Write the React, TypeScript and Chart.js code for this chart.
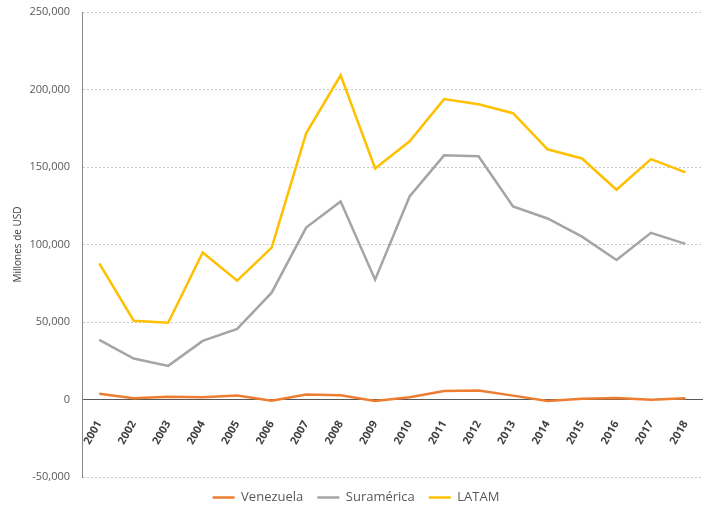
import React, { useEffect, useRef } from "react";
import { Chart, registerables } from "chart.js";

Chart.register(...registerables);

const years = ["2001","2002","2003","2004","2005","2006","2007","2008","2009","2010","2011","2012","2013","2014","2015","2016","2017","2018"];
const venezuela = [3700, 800, 1800, 1500, 2500, -800, 3200, 2700, -1000, 1500, 5500, 5800, 2500, -1000, 500, 1000, -200, 800];
const suramerica = [38500, 26400, 21700, 37800, 45600, 68900, 110900, 127700, 77300, 131000, 157500, 156900, 124500, 116800, 105100, 90000, 107500, 100400];
const latam = [87800, 50800, 49500, 94800, 76700, 98000, 171700, 209200, 149000, 166600, 193800, 190500, 184700, 161400, 155500, 135300, 155100, 146500];

const FONT = "'Open Sans', 'DejaVu Sans', sans-serif";

export default function App() {
  const ref = useRef<HTMLCanvasElement | null>(null);
  useEffect(() => {
    if (!ref.current) return;
    const chart = new Chart(ref.current, {
      type: "line",
      data: {
        labels: years,
        datasets: [
          { label: "Venezuela", data: venezuela, borderColor: "#ED7D31", backgroundColor: "#ED7D31", borderWidth: 2.5, pointRadius: 0, tension: 0 },
          { label: "Suramérica", data: suramerica, borderColor: "#A5A5A5", backgroundColor: "#A5A5A5", borderWidth: 2.5, pointRadius: 0, tension: 0 },
          { label: "LATAM", data: latam, borderColor: "#FFC000", backgroundColor: "#FFC000", borderWidth: 2.5, pointRadius: 0, tension: 0 },
        ],
      },
      options: {
        animation: false,
        responsive: true,
        maintainAspectRatio: false,
        layout: { padding: { top: 12, right: 4, left: 8, bottom: -3 } },
        plugins: {
          legend: {
            position: "bottom",
            labels: {
              usePointStyle: true,
              pointStyle: "line",
              pointStyleWidth: 22,
              color: "#595959",
              font: { family: FONT, size: 13 },
              padding: 14,
            },
          },
          tooltip: { enabled: false },
        },
        scales: {
          x: {
            position: { y: 0 },
            offset: true,
            grid: { display: false },
            border: { display: true, color: "#595959", width: 1 },
            ticks: {
              minRotation: 60,
              maxRotation: 60,
              color: "#404040",
              padding: 11,
              font: { family: FONT, size: 11, weight: "bold" },
            },
          },
          y: {
            min: -50000,
            max: 250000,
            afterFit: (s: any) => { s.width = 74; s.paddingTop = 0; s.paddingBottom = 0; },
            grid: { color: "#c8c8c8", drawTicks: false },
            border: { display: true, color: "#888888", dash: [2, 2] },
            ticks: {
              stepSize: 50000,
              color: "#595959",
              padding: 12,
              font: { family: FONT, size: 11 },
              callback: (v: any) => Number(v).toLocaleString("en-US"),
            },
            title: {
              display: true,
              text: "Millones de USD",
              color: "#404040",
              font: { family: FONT, size: 10 },
              padding: { top: 4, bottom: 2 },
            },
          },
        },
      },
    });
    return () => chart.destroy();
  }, []);
  return (
    <div style={{ position: "fixed", left: 0, top: 0, width: 708, height: 511, background: "#fff" }}>
      <canvas ref={ref} />
    </div>
  );
}
